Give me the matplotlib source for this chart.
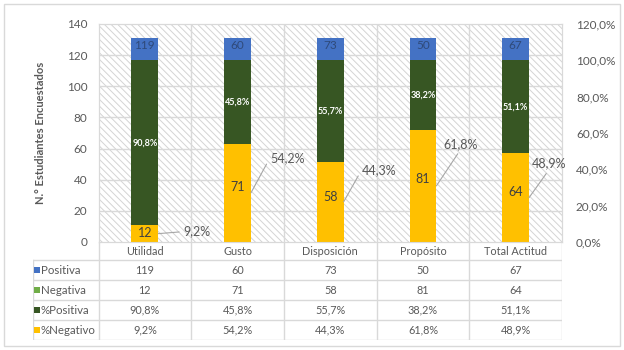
import numpy as np
import matplotlib.pyplot as plt
from matplotlib.patches import Rectangle

plt.rcParams['font.family'] = ['Lato', 'DejaVu Sans']
plt.rcParams['hatch.linewidth'] = 0.7

categorias = ['Utilidad', 'Gusto', 'Disposición', 'Propósito', 'Total Actitud']
positiva = [119, 60, 73, 50, 67]
negativa = [12, 71, 58, 81, 64]
pct_positiva = [90.8, 45.8, 55.7, 38.2, 51.1]
pct_negativo = [9.2, 54.2, 44.3, 61.8, 48.9]

c_pos = '#4472c4'
c_neg = '#70ad47'
c_ppos = '#375623'
c_pneg = '#ffc000'
gris = '#595959'
linea = '#d9d9d9'

def fmt_pct(v):
    return ('%.1f' % v).replace('.', ',') + '%'

fig = plt.figure(figsize=(6.24, 3.5), dpi=100)
fig.patches.append(Rectangle((4 / 624, 4 / 350), 616 / 624, 342 / 350, transform=fig.transFigure,
                             fill=False, edgecolor=linea, lw=1))

ax = fig.add_axes([98.5 / 624, 108 / 350, 463.5 / 624, 218 / 350])
ax2 = ax.twinx()
x = np.arange(len(categorias))
w = 0.29

# fondo rayado
ax.add_patch(Rectangle((0, 0), 1, 1, transform=ax.transAxes, facecolor='white',
                       edgecolor='#d4d4d4', hatch='\\\\\\\\\\', lw=0, zorder=0))
for yv in range(20, 140, 20):
    ax.axhline(yv, color=linea, lw=1, zorder=0.5)
for xv in x[:-1] + 0.5:
    ax.axvline(xv, color=linea, lw=1, zorder=0.5)

# eje primario: conteos (apilados)
ax.bar(x, negativa, w, color=c_neg, zorder=2)
ax.bar(x, positiva, w, bottom=negativa, color=c_pos, zorder=2)
# eje secundario: porcentajes
ax2.bar(x, pct_negativo, w, color=c_pneg, zorder=2)
ax2.bar(x, pct_positiva, w, bottom=pct_negativo, color=c_ppos, zorder=2)

ax.set_xlim(-0.5, 4.5)
ax.set_ylim(0, 140)
ax2.set_ylim(0, 120)
ax.set_yticks(range(0, 141, 20))
ax2.set_yticks(range(0, 121, 20))
ax2.set_yticklabels([fmt_pct(v) for v in range(0, 121, 20)])
ax.set_xticks([])
for a in (ax, ax2):
    a.tick_params(length=0, labelsize=8.5, labelcolor=gris)
    for s in a.spines.values():
        s.set_color(linea)
ax.tick_params(axis='y', pad=8)
ax2.tick_params(axis='y', pad=10)
ax.set_ylabel('N.° Estudiantes Encuestados', fontsize=8, color=gris, fontweight='bold', labelpad=15)

# etiquetas
tot = np.array(negativa) + np.array(positiva)
for i in range(len(categorias)):
    ax2.text(x[i], pct_negativo[i] + pct_positiva[i] / 2, fmt_pct(pct_positiva[i]), ha='center',
             va='center', color='white', fontsize=6.5, fontweight='bold', zorder=5)
    ax2.annotate(str(negativa[i]), (x[i], negativa[i] / 2), xycoords=ax.transData, ha='center',
                 va='center', color='#404040', fontsize=9, zorder=5)
    ax2.annotate(str(positiva[i]), (x[i], tot[i]), xycoords=ax.transData, xytext=(0, -2),
                 textcoords='offset pixels', ha='center', va='top', color='#2f4a7a',
                 fontsize=8.5, zorder=5)

offs = [(25, 2, 'left', 'center', (0, 0.5)),
        (19, 35, 'left', 'center', (0, 0.5)),
        (18, 32, 'left', 'center', (0, 0.5)),
        (24, 36, 'center', 'bottom', (0.5, 0)),
        (20, 28, 'center', 'bottom', (0.5, 0))]
for i, (dx, dy, ha, va, rp) in enumerate(offs):
    ax2.annotate(fmt_pct(pct_negativo[i]), (x[i] + w / 2, pct_negativo[i] / 2), xytext=(dx, dy),
                 textcoords='offset pixels', ha=ha, va=va, color=gris, fontsize=9, zorder=5,
                 arrowprops=dict(arrowstyle='-', color='#a6a6a6', lw=0.8, shrinkA=1, shrinkB=0,
                                 relpos=rp))

# tabla de datos
tax = fig.add_axes([33 / 624, 10 / 350, 529 / 624, 98 / 350])
x0 = -0.5 - 65.5 / 92.7
tax.set_xlim(x0, 4.5)
tax.set_ylim(98, 0)
tax.axis('off')
filas = [18, 38, 58, 78, 98]
for yv in filas:
    tax.plot([x0, 4.5], [yv, yv], color=linea, lw=1)
tax.plot([x0, x0], [18, 98], color=linea, lw=1)
for xv in np.arange(-0.5, 4.6, 1):
    tax.plot([xv, xv], [0, 98], color=linea, lw=1)
for i, c in enumerate(categorias):
    tax.text(x[i], 9.5, c, ha='center', va='center', fontsize=7.8, color=gris)

nombres = ['Positiva', 'Negativa', '%Positiva', '%Negativo']
colores = [c_pos, c_neg, c_ppos, c_pneg]
valores = [[str(v) for v in positiva], [str(v) for v in negativa],
           [fmt_pct(v) for v in pct_positiva], [fmt_pct(v) for v in pct_negativo]]
for r in range(4):
    yc = filas[r] + 10
    tax.plot(x0 + 0.045, yc, marker='s', ms=5, color=colores[r], mew=0)
    tax.text(x0 + 0.085, yc, nombres[r], ha='left', va='center', fontsize=8.3, color=gris)
    for i in range(len(categorias)):
        tax.text(x[i], yc, valores[r][i], ha='center', va='center', fontsize=7.8, color=gris)

plt.savefig('out.png', dpi=100)
